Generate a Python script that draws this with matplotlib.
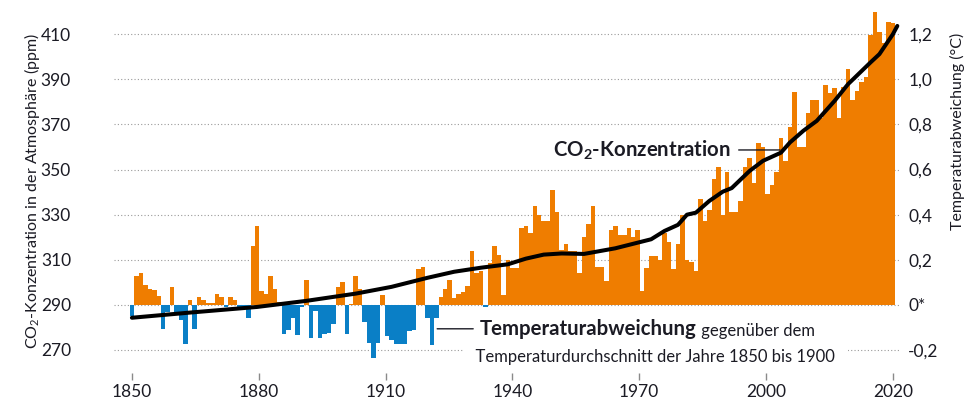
import numpy as np
import matplotlib
matplotlib.use("Agg")
import matplotlib.pyplot as plt

# --- data ---
years = np.arange(1850, 2021)
temp_anomaly = [
    -0.05, 0.13, 0.14, 0.09, 0.07, 0.065, 0.04, -0.105, -0.03, 0.08,        # 1850-1859
    -0.035, -0.065, -0.175, 0.02, -0.105, 0.035, 0.02, 0.01, 0.01, 0.05,    # 1860-1869
    0.035, -0.01, 0.035, 0.02, -0.015, -0.015, -0.06, 0.26, 0.35, 0.06,     # 1870-1879
    0.05, 0.13, 0.07, 0.015, -0.13, -0.11, -0.06, -0.135, -0.01, 0.11,      # 1880-1889
    -0.145, -0.025, -0.145, -0.13, -0.125, -0.085, 0.08, 0.10, -0.13, 0.005,  # 1890-1899
    0.13, 0.07, -0.075, -0.17, -0.235, -0.17, 0.045, -0.14, -0.155, -0.175,  # 1900-1909
    -0.175, -0.175, -0.115, -0.11, 0.16, 0.17, -0.06, -0.18, -0.06, 0.035,  # 1910-1919
    0.07, 0.11, 0.03, 0.05, 0.055, 0.085, 0.24, 0.14, 0.15, -0.01,          # 1920-1929
    0.185, 0.26, 0.22, 0.045, 0.20, 0.165, 0.165, 0.34, 0.35, 0.32,         # 1930-1939
    0.44, 0.40, 0.37, 0.37, 0.51, 0.41, 0.245, 0.27, 0.24, 0.24,            # 1940-1949
    0.14, 0.30, 0.36, 0.44, 0.17, 0.17, 0.105, 0.33, 0.35, 0.31,            # 1950-1959
    0.31, 0.34, 0.30, 0.33, 0.06, 0.165, 0.215, 0.215, 0.20, 0.32,          # 1960-1969
    0.28, 0.16, 0.27, 0.40, 0.20, 0.19, 0.15, 0.47, 0.37, 0.42,             # 1970-1979
    0.56, 0.61, 0.40, 0.59, 0.41, 0.41, 0.46, 0.61, 0.65, 0.54,             # 1980-1989
    0.72, 0.70, 0.49, 0.53, 0.59, 0.74, 0.64, 0.79, 0.945, 0.70,            # 1990-1999
    0.70, 0.85, 0.91, 0.91, 0.83, 0.975, 0.94, 0.96, 0.83, 0.965,           # 2000-2009
    1.045, 0.91, 0.95, 0.99, 1.01, 1.195, 1.30, 1.21, 1.16, 1.255,          # 2010-2019
    1.25,                                                                   # 2020
]

co2_years = [1850, 1863, 1878, 1889, 1900, 1908, 1916, 1922, 1928, 1934, 1938,
             1942, 1946, 1951, 1958, 1966, 1969, 1972, 1974, 1976, 1979, 1982,
             1984, 1988, 1991, 1995, 1997, 2000, 2003, 2007, 2010, 2015, 2017,
             2020, 2021]
co2_ppm = [284.3, 286.6, 289.1, 291.8, 295.0, 298.0, 302.0, 304.7, 306.5, 308.0, 310.5,
           312.3, 312.8, 312.6, 315.1, 319.1, 322.8, 325.5, 330.0, 330.9, 336.1, 340.2,
           341.8, 349.4, 353.9, 357.5, 362.0, 367.2, 371.6, 380.5, 387.9, 397.5, 401.2,
           410.0, 413.7]

ppm_ticks = [270, 290, 310, 330, 350, 370, 390, 410]
temp_ticks = [-0.2, 0.0, 0.2, 0.4, 0.6, 0.8, 1.0, 1.2]
temp_tick_labels = ["-0,2", "0*", "0,2", "0,4", "0,6", "0,8", "1,0", "1,2"]
year_tick_labels = ["1850", "1880", "1910", "1940", "1970", "2000", "2020"]

ORANGE = "#ef7d00"
BLUE = "#0a7fc6"
TEXT = "#1b1b24"

plt.rcParams["font.family"] = ["Lato", "DejaVu Sans"]
plt.rcParams["mathtext.fontset"] = "custom"
plt.rcParams["mathtext.rm"] = "Lato"
plt.rcParams["mathtext.bf"] = "Lato:bold"
plt.rcParams["text.color"] = TEXT

fig = plt.figure(figsize=(9.76, 4.01), dpi=100)
ax = fig.add_axes([114 / 976, 28 / 401, 786 / 976, 373 / 401])
ax_t = ax.twinx()

# ppm axis on top so the CO2 line covers the bars
ax.set_zorder(ax_t.get_zorder() + 1)
ax.patch.set_visible(False)

ppm_lo, ppm_hi = 259.8, 425.2
ax.set_ylim(ppm_lo, ppm_hi)
# 0 degC sits on 290 ppm, 0.2 degC per 20 ppm
ax_t.set_ylim((ppm_lo - 290) / 100, (ppm_hi - 290) / 100)
ax.set_xlim(1846.0, 2021.6)

# --- temperature bars ---
colors = [ORANGE if v >= 0 else BLUE for v in temp_anomaly]
ax_t.bar(years, temp_anomaly, width=1.0, color=colors, linewidth=0)
ax_t.set_axisbelow(True)
ax_t.yaxis.grid(True, linestyle=(0, (1, 2)), color="#9a9a9a", linewidth=0.8)

# --- CO2 line ---
ax.plot(co2_years, co2_ppm, color="black", linewidth=2.9,
        solid_capstyle="round", solid_joinstyle="round")

# --- axes styling ---
for a in (ax, ax_t):
    for s in a.spines.values():
        s.set_visible(False)

ax.set_yticks(ppm_ticks)
ax.tick_params(axis="y", length=0, pad=31, labelsize=12.5, labelcolor=TEXT)
ax_t.set_yticks(temp_ticks, temp_tick_labels)
ax_t.tick_params(axis="y", length=0, pad=6, labelsize=12.5, labelcolor=TEXT)

ax.set_xticks(np.linspace(years[0], years[-1], len(year_tick_labels)), year_tick_labels)
ax.tick_params(axis="x", length=5, width=1, color="#8a8a8a", pad=3,
               labelsize=12.5, labelcolor=TEXT)

fig.text(32 / 976, 1 - 191 / 401, "CO$_2$-Konzentration in der Atmosphäre (ppm)",
         rotation=90, ha="center", va="center", fontsize=11.5)
fig.text(957 / 976, 1 - 131 / 401, "Temperaturabweichung (°C)",
         rotation=90, ha="center", va="center", fontsize=11.5)

# --- annotations ---
ax.annotate("CO$_\\mathbf{2}$-Konzentration", xy=(1994.8, 358.7), xytext=(1983.7, 358.7),
            ha="right", va="center", fontsize=14.7, fontweight="bold",
            arrowprops=dict(arrowstyle="-", color=TEXT, lw=1, shrinkA=4, shrinkB=0))

t1 = ax.annotate("Temperaturabweichung", xy=(1918.2, 279.4), xytext=(1927.8, 279.4),
                 ha="left", va="center", fontsize=14.7, fontweight="bold",
                 arrowprops=dict(arrowstyle="-", color=TEXT, lw=1, shrinkA=3, shrinkB=0))
ax.annotate(" gegenüber dem", xy=(1, 0), xycoords=t1, ha="left", va="bottom", fontsize=12)
ax.annotate("\u2003Temperaturdurchschnitt der Jahre 1850 bis 1900\u2003",
            xy=(1927.8, 266.9), xytext=(-12, 0), textcoords="offset points",
            ha="left", va="center", fontsize=12,
            bbox=dict(boxstyle="square,pad=0", facecolor="white", edgecolor="none"))

fig.savefig("out.png", dpi=100)
